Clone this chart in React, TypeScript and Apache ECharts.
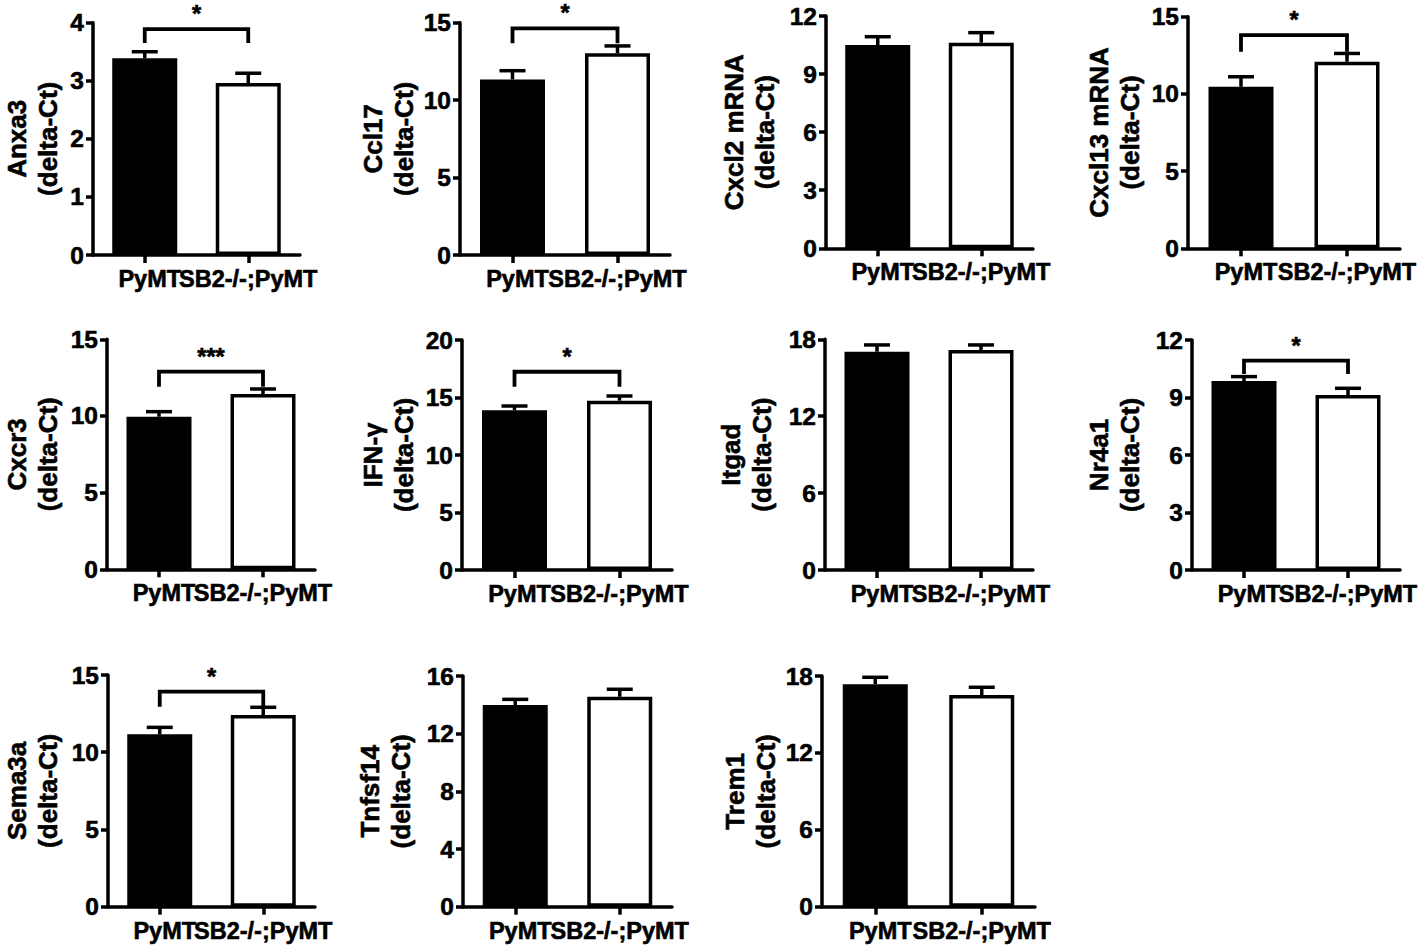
import React, { useEffect, useRef } from "react";
import * as echarts from "echarts";

// ---------- data ----------
const genes = ["Anxa3", "Ccl17", "Cxcl2 mRNA", "Cxcl13 mRNA", "Cxcr3", "IFN-γ", "Itgad", "Nr4a1", "Sema3a", "Tnfsf14", "Trem1"];
const groups = ["PyMT", "SB2-/-;PyMT"];
const meanPyMT = [3.39, 11.34, 10.5, 10.46, 9.95, 13.9, 17.03, 9.86, 11.16, 13.99, 17.35];
const semPyMT = [0.11, 0.56, 0.43, 0.65, 0.33, 0.36, 0.53, 0.23, 0.45, 0.39, 0.55];
const meanSB2 = [2.96, 13.02, 10.62, 12.08, 11.43, 14.72, 17.17, 9.13, 12.41, 14.56, 16.52];
const semSB2 = [0.17, 0.48, 0.52, 0.54, 0.33, 0.41, 0.39, 0.35, 0.5, 0.52, 0.6];
const yMax = [4, 15, 12, 15, 15, 20, 18, 12, 15, 16, 18];
const yStep = [1, 5, 3, 5, 5, 5, 6, 3, 5, 4, 6];
const stars = ["*", "*", "", "*", "***", "*", "", "*", "*", "", ""];
const bracketTop = [3.89, 14.63, 0, 13.81, 12.89, 17.24, 0, 10.92, 13.92, 0, 0];
const bracketFoot = [3.65, 13.67, 0, 12.73, 11.91, 15.94, 0, 10.23, 12.95, 0, 0];

// ---------- layout (pixels): axis x, top, x-axis end, zero line y, name gap ----------
const boxes: number[][] = [
  [90, 22.7, 300, 255, 30],
  [460, 22.7, 670, 255, 38],
  [826, 16, 1033, 248.3, 46],
  [1188, 16.7, 1400, 248.3, 43],
  [106, 339.3, 315, 569.3, 44],
  [462, 340, 672, 570, 43],
  [825, 339.3, 1033, 570, 48],
  [1192, 340, 1400, 570, 47],
  [107, 675, 315, 906.7, 45],
  [463, 676, 672, 906.7, 47],
  [822, 676, 1035, 906.7, 41],
];

const FONT = '"Liberation Sans", Arial, Helvetica, sans-serif';
const FS = 23.5;
const TICK_FS = 24.5;
const NAME_FS = 26;
const LW = 3.5;
const HEAVY = { textBorderColor: "#000", textBorderWidth: 0.6 };

function buildOption() {
  const grid: any[] = [];
  const xAxis: any[] = [];
  const yAxis: any[] = [];
  const series: any[] = [];
  genes.forEach((g, i) => {
    const [ax, top, xe, zero, gap] = boxes[i];
    grid.push({ left: ax, top, width: xe - ax, height: zero - top, containLabel: false });
    xAxis.push({
      type: "category",
      gridIndex: i,
      data: [
        { value: groups[0], textStyle: { padding: [0, 0, 0, 10] } },
        { value: groups[1] },
      ],
      axisLine: { show: true, lineStyle: { color: "#000", width: LW } },
      axisTick: { show: true, alignWithLabel: true, length: 8, lineStyle: { color: "#000", width: LW } },
      axisLabel: {
        interval: 0,
        hideOverlap: false,
        margin: 12,
        color: "#000",
        fontWeight: "bold",
        fontSize: FS,
        fontFamily: FONT,
        ...HEAVY,
      },
      splitLine: { show: false },
    });
    yAxis.push({
      type: "value",
      gridIndex: i,
      min: 0,
      max: yMax[i],
      interval: yStep[i],
      name: g + "\n(delta-Ct)",
      nameLocation: "middle",
      nameGap: gap,
      nameTextStyle: {
        color: "#000",
        fontWeight: "bold",
        fontSize: NAME_FS,
        fontFamily: FONT,
        lineHeight: 31,
        align: "center",
        ...HEAVY,
      },
      axisLine: { show: true, lineStyle: { color: "#000", width: LW } },
      axisTick: { show: true, length: 7, lineStyle: { color: "#000", width: LW } },
      axisLabel: { margin: 9, color: "#000", fontWeight: "bold", fontSize: TICK_FS, fontFamily: FONT, ...HEAVY },
      splitLine: { show: false },
    });
    series.push({
      type: "bar",
      xAxisIndex: i,
      yAxisIndex: i,
      barWidth: 65,
      data: [
        { value: meanPyMT[i], itemStyle: { color: "#000", borderColor: "#000", borderWidth: LW } },
        { value: meanSB2[i], itemStyle: { color: "#fff", borderColor: "#000", borderWidth: LW } },
      ],
      z: 2,
    });
    series.push({
      type: "custom",
      xAxisIndex: i,
      yAxisIndex: i,
      clip: false,
      z: 3,
      encode: { x: 0, y: 1 },
      data: [
        [0, meanPyMT[i], semPyMT[i]],
        [1, meanSB2[i], semSB2[i]],
      ],
      renderItem: (params: any, api: any) => {
        const x = api.value(0);
        const m = api.value(1);
        const e = api.value(2);
        const base = api.coord([x, m]);
        const tp = api.coord([x, m + e]);
        return {
          type: "group",
          children: [
            { type: "line", shape: { x1: base[0], y1: base[1], x2: tp[0], y2: tp[1] }, style: { stroke: "#000", lineWidth: LW } },
            { type: "line", shape: { x1: tp[0] - 13, y1: tp[1], x2: tp[0] + 13, y2: tp[1] }, style: { stroke: "#000", lineWidth: LW } },
          ],
        };
      },
    });
    if (stars[i]) {
      series.push({
        type: "custom",
        xAxisIndex: i,
        yAxisIndex: i,
        clip: false,
        z: 4,
        encode: { x: 0, y: 1 },
        data: [[0, bracketTop[i], bracketFoot[i]]],
        renderItem: (params: any, api: any) => {
          const t = api.value(1);
          const f = api.value(2);
          const l = api.coord([0, t]);
          const r = api.coord([1, t]);
          const ft = api.coord([0, f]);
          return {
            type: "group",
            children: [
              {
                type: "polyline",
                shape: { points: [[l[0], ft[1]], [l[0], l[1]], [r[0], r[1]], [r[0], ft[1]]] },
                style: { stroke: "#000", lineWidth: 3.8, fill: "none" },
              },
              {
                type: "text",
                x: (l[0] + r[0]) / 2,
                y: l[1] - 15,
                style: {
                  text: stars[i],
                  fill: "#000",
                  fontSize: FS,
                  fontWeight: "bold",
                  fontFamily: FONT,
                  lineHeight: 14,
                  align: "center",
                  verticalAlign: "middle",
                  stroke: "#000",
                  lineWidth: 0.6,
                },
              },
            ],
          };
        },
      });
    }
  });
  return {
    animation: false,
    backgroundColor: "#fff",
    textStyle: { fontFamily: FONT },
    grid,
    xAxis,
    yAxis,
    series,
  };
}

export default function App() {
  const ref = useRef<HTMLDivElement>(null);
  useEffect(() => {
    if (!ref.current) return;
    const chart = echarts.init(ref.current, null, { renderer: "svg" });
    chart.setOption(buildOption() as any);
    return () => chart.dispose();
  }, []);
  return (
    <div
      ref={ref}
      style={{ position: "fixed", left: 0, top: 0, width: 1424, height: 947, background: "#fff" }}
    />
  );
}
